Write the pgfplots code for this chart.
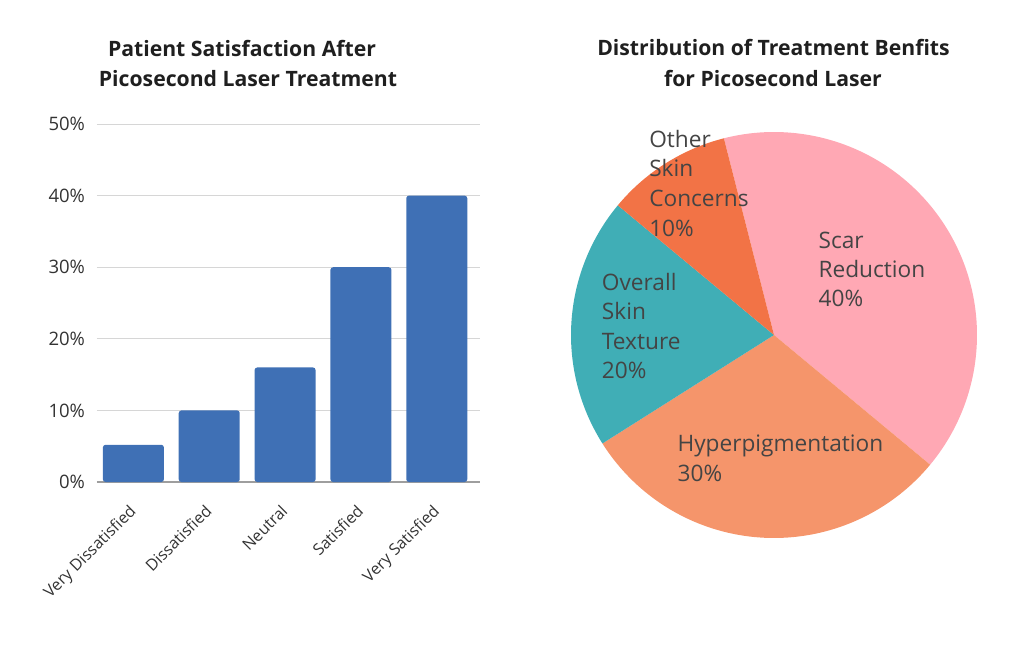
\documentclass[border=0pt]{standalone}
\usepackage{pgfplots}
\pgfplotsset{compat=1.18}
\usepackage{fontspec}
\setmainfont{Open Sans}

\definecolor{barblue}{HTML}{3F70B5}
\definecolor{gridgray}{HTML}{D6D6D6}
\definecolor{basegray}{HTML}{9E9E9E}
\definecolor{ticktext}{HTML}{333333}
\definecolor{pielabel}{HTML}{444444}
\definecolor{scarpink}{HTML}{FFA8B4}
\definecolor{hypersalmon}{HTML}{F5956B}
\definecolor{textureteal}{HTML}{40AEB6}
\definecolor{otherorange}{HTML}{F27346}

% pixel positions, measured from the top of the 1024x644 picture
\newcommand{\pxnode}[4][]{\node[inner sep=0pt,anchor=base west,#1] at ({#2*0.75pt},{(644-#3)*0.75pt}) {#4};}

% shares of the pie, in percent
\def\shScar{40}
\def\shHyper{30}
\def\shTexture{20}
\def\shOther{10}

\begin{document}
\begin{tikzpicture}
\path[use as bounding box] (0,0) rectangle (768pt,483pt);

% ---------- bar chart ----------
\begin{axis}[
    at={(72.75pt,121.5pt)}, anchor=south west,
    scale only axis, width=287.25pt, height=268.5pt,
    ybar, bar width=45.75pt,
    xmin=-0.48, xmax=4.57,
    ymin=0, ymax=50,
    axis x line*=bottom, axis y line*=left,
    y axis line style={draw=none},
    x axis line style={draw=basegray, line width=0.9pt},
    major tick length=0pt,
    ymajorgrids, grid style={draw=gridgray, line width=0.6pt},
    ytick={0,10,20,30,40,50},
    yticklabels={0\%,10\%,20\%,30\%,40\%,50\%},
    y tick label style={font=\fontsize{13.9}{16}\selectfont, text=ticktext, xshift=-5.5pt},
    xtick={0,1,2,3,4},
    xticklabels={Very Dissatisfied,Dissatisfied,Neutral,Satisfied,Very Satisfied},
    x tick label style={rotate=45, anchor=north east, font=\fontsize{12}{14}\selectfont, text=ticktext, inner sep=1pt, yshift=-7.5pt, xshift=-13pt},
]
\addplot[fill=barblue, draw=none, rounded corners=2pt] coordinates {
    (0, 5.2)
    (1, 10)
    (2, 16)
    (3, 30)
    (4, 40)
};
\end{axis}

% ---------- pie chart ----------
\pgfmathsetmacro\aStart{104.3}
\pgfmathsetmacro\aScar{\aStart-3.6*\shScar}
\pgfmathsetmacro\aHyper{\aScar-3.6*\shHyper}
\pgfmathsetmacro\aTexture{\aHyper-3.6*\shTexture}
\pgfmathsetmacro\aOther{\aTexture-3.6*\shOther}
\begin{axis}[
    at={(580.5pt,231.75pt)}, anchor=center,
    scale only axis, width=304.5pt, height=304.5pt,
    xmin=-1, xmax=1, ymin=-1, ymax=1,
    hide axis, clip=false,
]
\addplot[fill=scarpink, draw=none, domain=\aScar:\aStart, samples=100, variable=\t]
    ({cos(\t)},{sin(\t)}) -- (axis cs:0,0) -- cycle;
\addplot[fill=hypersalmon, draw=none, domain=\aHyper:\aScar, samples=80, variable=\t]
    ({cos(\t)},{sin(\t)}) -- (axis cs:0,0) -- cycle;
\addplot[fill=textureteal, draw=none, domain=\aTexture:\aHyper, samples=60, variable=\t]
    ({cos(\t)},{sin(\t)}) -- (axis cs:0,0) -- cycle;
\addplot[fill=otherorange, draw=none, domain=\aOther:\aTexture, samples=40, variable=\t]
    ({cos(\t)},{sin(\t)}) -- (axis cs:0,0) -- cycle;
\end{axis}

% ---------- titles ----------
\begin{scope}[every node/.style={font=\fontsize{15.9}{18}\selectfont\bfseries, text=black!88}]
\pxnode[anchor=base]{242}{57}{Patient Satisfaction After}
\pxnode[anchor=base]{248}{87}{Picosecond Laser Treatment}
\pxnode[anchor=base]{773.5}{56}{Distribution of Treatment Benfits}
\pxnode[anchor=base]{773}{87}{for Picosecond Laser}
\end{scope}

% ---------- pie labels ----------
\begin{scope}[every node/.style={font=\fontsize{17}{20}\selectfont, text=pielabel}]
\pxnode{818.3}{248.3}{Scar}
\pxnode{818.3}{277.7}{Reduction}
\pxnode{818.3}{306.7}{40\%}
\pxnode{677.3}{451.7}{Hyperpigmentation}
\pxnode{677.3}{481}{30\%}
\pxnode{601.7}{290}{Overall}
\pxnode{601.7}{319.3}{Skin}
\pxnode{601.7}{349}{Texture}
\pxnode{601.7}{378.3}{20\%}
\pxnode{649}{147.3}{Other}
\pxnode{649}{176.7}{Skin}
\pxnode{649}{206.7}{Concerns}
\pxnode{649}{236}{10\%}
\end{scope}
\end{tikzpicture}
\end{document}
